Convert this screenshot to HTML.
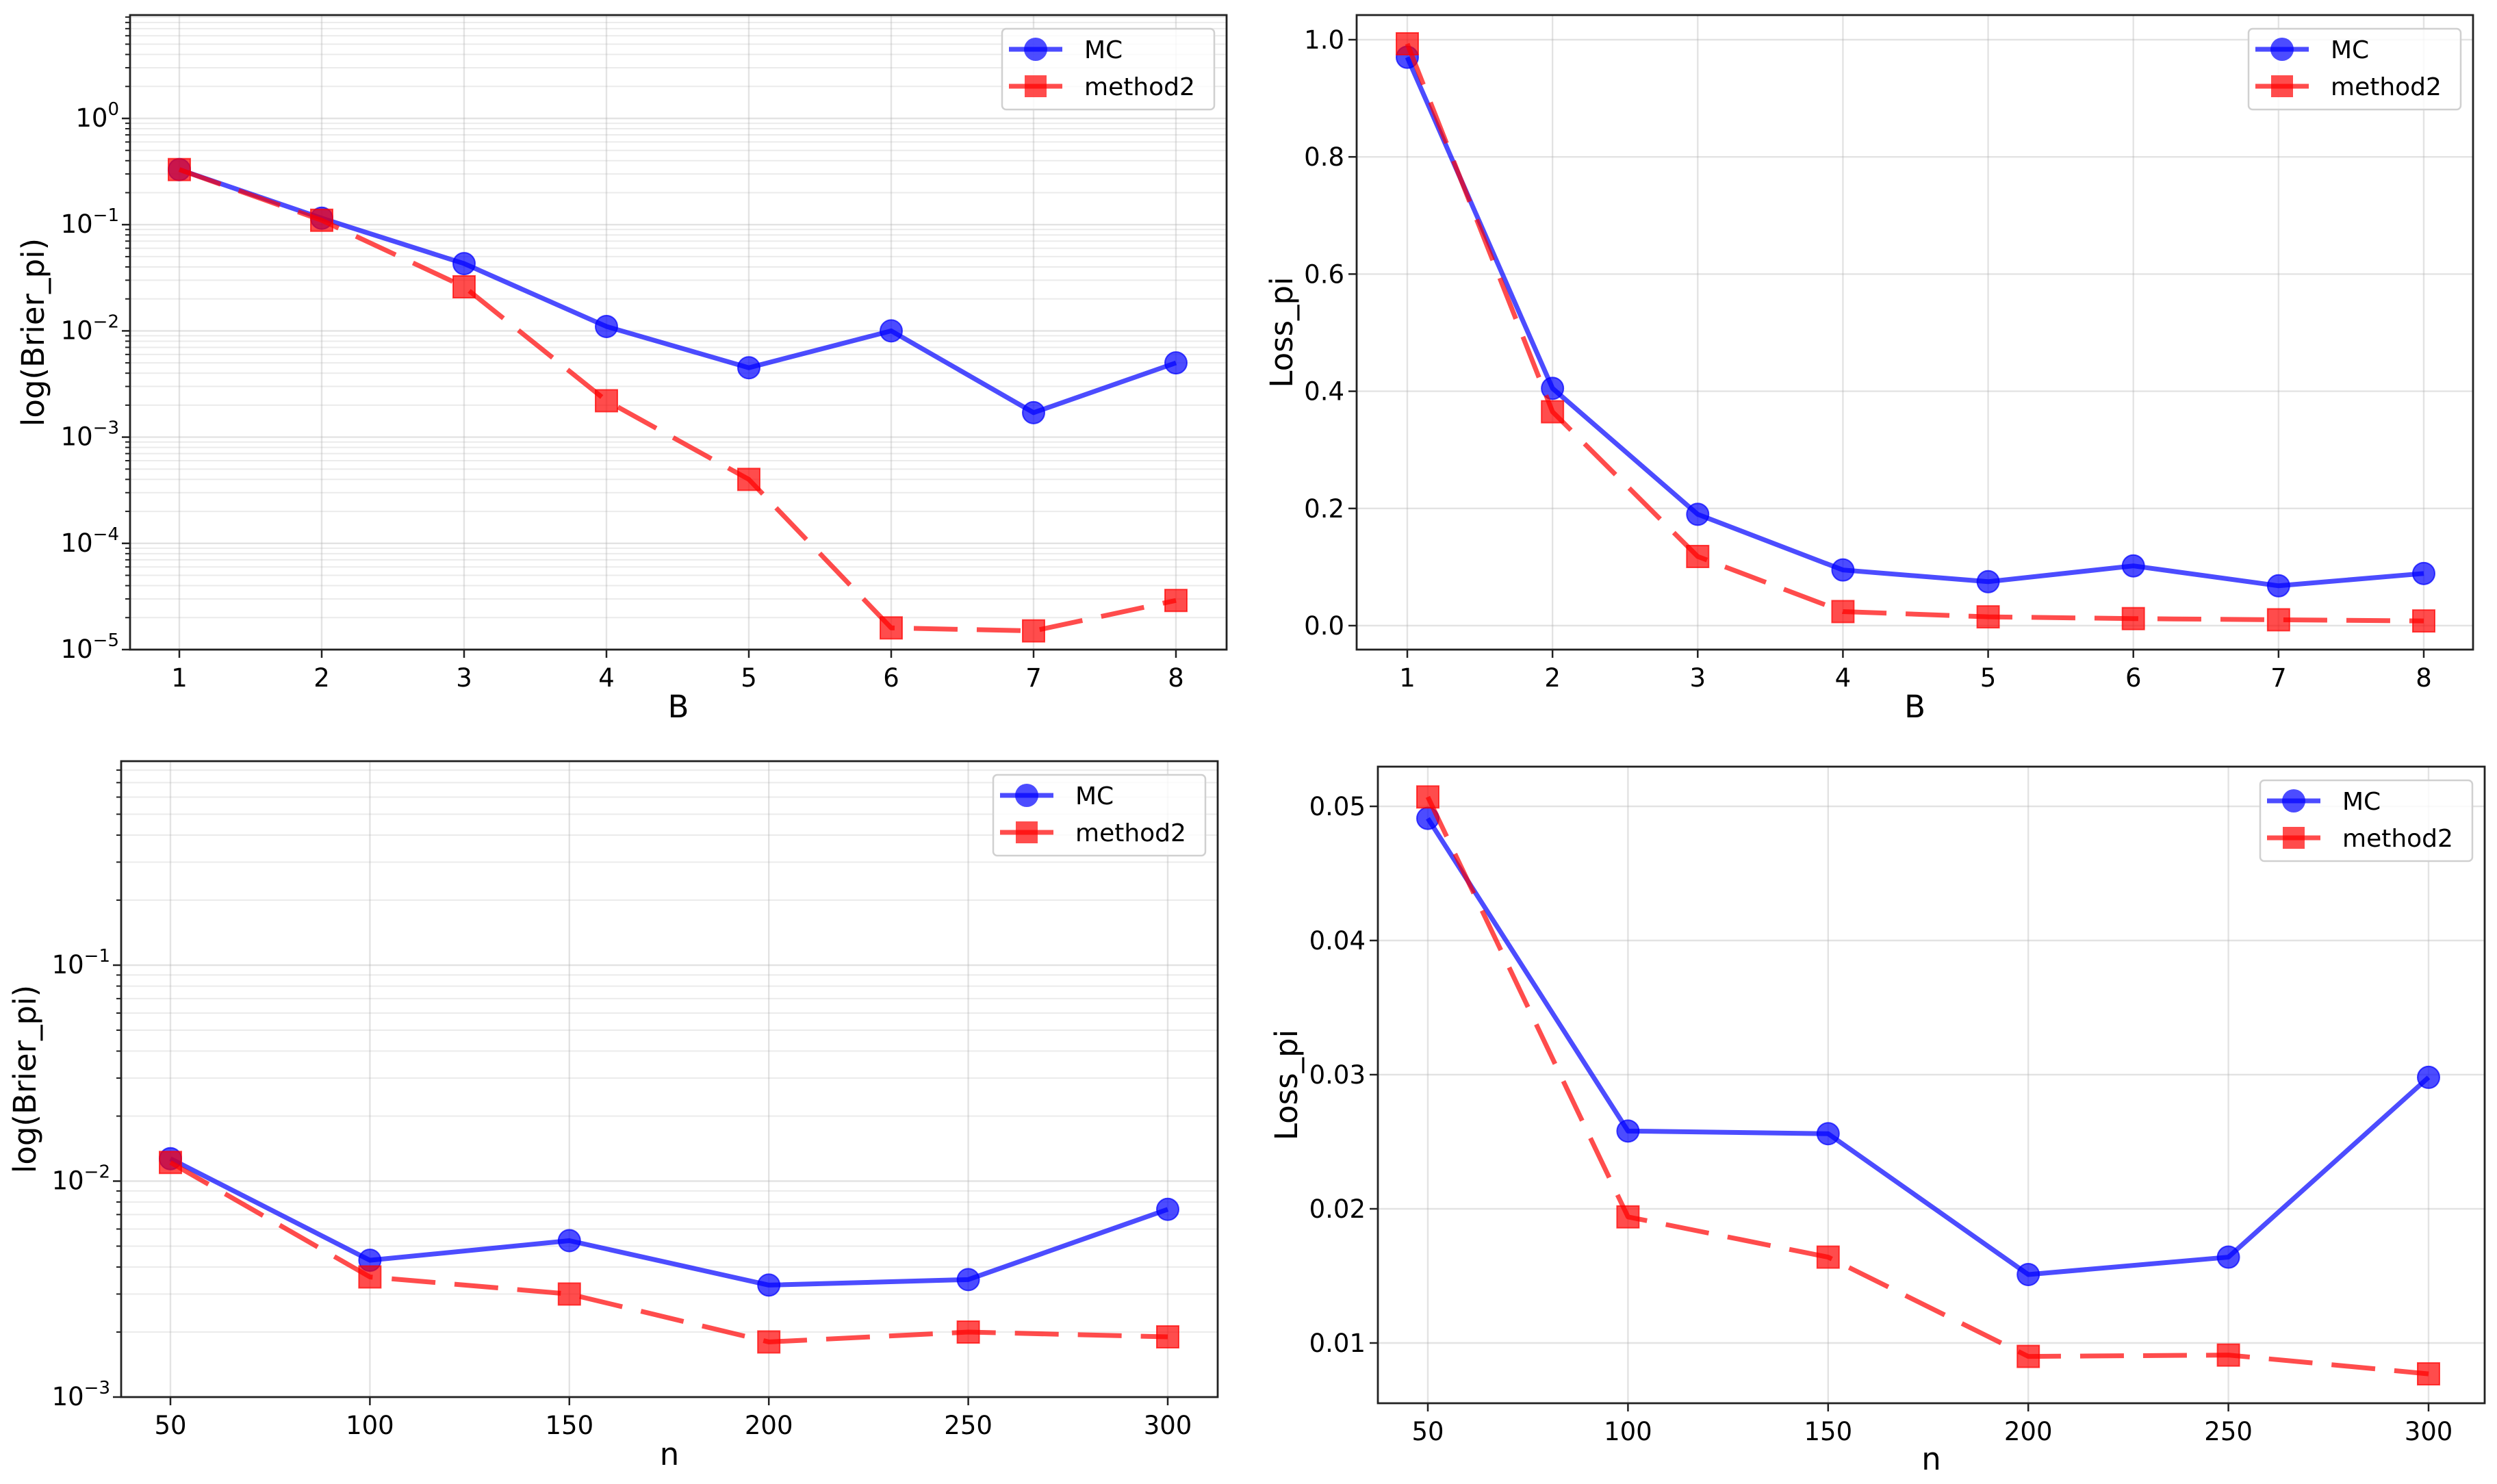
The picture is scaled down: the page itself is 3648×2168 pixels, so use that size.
<!DOCTYPE html>
<html><head><meta charset="utf-8"><style>
html,body{margin:0;padding:0;background:#fff;}
svg{display:block;font-family:"DejaVu Sans","Liberation Sans",sans-serif;}
</style></head><body>
<svg id="fig" width="3648" height="2168" viewBox="0 0 3648 2168" xmlns="http://www.w3.org/2000/svg"></svg>
<script>
// Panel A: Brier vs B (log)
const catB = [1,2,3,4,5,6,7,8];
const brierMC = [0.33,0.115,0.043,0.011,0.0045,0.010,0.0017,0.005];
const brierM2 = [0.33,0.11,0.026,0.0022,0.0004,0.000016,0.000015,0.000029];
// Panel B: Loss vs B
const lossMC = [0.97,0.405,0.19,0.095,0.075,0.102,0.068,0.089];
const lossM2 = [0.993,0.365,0.118,0.024,0.015,0.012,0.010,0.008];
const ticksLin1 = [0.0,0.2,0.4,0.6,0.8,1.0];
const tickLabelsLin1 = ["0.0","0.2","0.4","0.6","0.8","1.0"];
// Panel C: Brier vs n (log)
const catN = [50,100,150,200,250,300];
const brierNMC = [0.0127,0.0043,0.0053,0.0033,0.0035,0.0074];
const brierNM2 = [0.0122,0.0036,0.0030,0.0018,0.0020,0.0019];
// Panel D: Loss vs n
const lossNMC = [0.0491,0.0258,0.0256,0.0151,0.0164,0.0298];
const lossNM2 = [0.0507,0.0194,0.0164,0.0090,0.0091,0.0077];
const ticksLin2 = [0.01,0.02,0.03,0.04,0.05];
const tickLabelsLin2 = ["0.01","0.02","0.03","0.04","0.05"];

const NS="http://www.w3.org/2000/svg";
const svg=document.getElementById('fig');
function mk(tag,attrs,parent){const e=document.createElementNS(NS,tag);for(const k in attrs)e.setAttribute(k,attrs[k]);(parent||svg).appendChild(e);return e;}

function panel(cfg){
  const g=mk('g',{});
  
  
  const L=cfg.L,R=cfg.R,T=cfg.T,B=cfg.B;
  const xs=v=>cfg.x0px+(v-cfg.x0)*(cfg.x1px-cfg.x0px)/(cfg.x1-cfg.x0);
  let ys;
  if(cfg.log){ys=v=>cfg.y0px+(Math.log10(v)-cfg.y0)*(cfg.y1px-cfg.y0px)/(cfg.y1-cfg.y0);}
  else{ys=v=>cfg.y0px+(v-cfg.y0)*(cfg.y1px-cfg.y0px)/(cfg.y1-cfg.y0);}
  const grid=mk('g',{},g);
  
  
  const yt=mk('g',{},g);
  
  
  if(cfg.log){
    for(let d=cfg.decLo;d<=cfg.decHi;d++){
      for(let m=1;m<10;m++){
        const v=m*Math.pow(10,d);const y=ys(v);
        if(y<T-0.5||y>B+0.5)continue;
        mk('line',{x1:L,x2:R,y1:y,y2:y,stroke:'#b0b0b0','stroke-opacity':m==1?0.35:0.25,'stroke-width':m==1?2.4:2},grid);
        mk('line',{x1:L-(m==1?12:7),x2:L,y1:y,y2:y,stroke:'#222','stroke-width':m==1?2.5:2},yt);
        if(m==1){
          const t=mk('text',{x:L-16,y:y+12,'text-anchor':'end','font-size':37,fill:'#000'},yt);
          t.textContent='10';
          const s=mk('tspan',{dy:-17,'font-size':26},t);s.textContent='\u2212'+Math.abs(d);
          if(d==0)s.textContent='0';
        }
      }
    }
  } else {
    cfg.yticks.forEach((v,i)=>{
      const y=ys(v);
      mk('line',{x1:L,x2:R,y1:y,y2:y,stroke:'#b0b0b0','stroke-opacity':0.35,'stroke-width':2.4},grid);
      mk('line',{x1:L-12,x2:L,y1:y,y2:y,stroke:'#222','stroke-width':2.5},yt);
      const t=mk('text',{x:L-18,y:y+13,'text-anchor':'end','font-size':37,fill:'#000'},yt);
      t.textContent=cfg.ylabels[i];
    });
  }
  const xt=mk('g',{},g);
  
  
  cfg.cats.forEach(v=>{
    const x=xs(v);
    mk('line',{x1:x,x2:x,y1:T,y2:B,stroke:'#b0b0b0','stroke-opacity':0.35,'stroke-width':2.4},grid);
    mk('line',{x1:x,x2:x,y1:B,y2:B+12,stroke:'#222','stroke-width':2.5},xt);
    const t=mk('text',{x:x,y:B+54,'text-anchor':'middle','font-size':37,fill:'#000'},xt);
    t.textContent=String(v);
  });
  function series(vals,color,dashed,marker,nm){
    const sg=mk('g',{},g);
    
    
    const pts=vals.map((v,i)=>xs(cfg.cats[i])+','+ys(v)).join(' ');
    const pl=mk('polyline',{points:pts,fill:'none',stroke:color,'stroke-opacity':0.7,'stroke-width':7,'stroke-linejoin':'round'},sg);
    if(dashed)pl.setAttribute('stroke-dasharray','64 28');
    vals.forEach((v,i)=>{
      const x=xs(cfg.cats[i]),y=ys(v);let m;
      if(marker=='o')m=mk('circle',{cx:x,cy:y,r:16,fill:color,'fill-opacity':0.7,stroke:color,'stroke-opacity':0.7,'stroke-width':2},sg);
      else m=mk('rect',{x:x-16,y:y-16,width:32,height:32,fill:color,'fill-opacity':0.7,stroke:color,'stroke-opacity':0.7,'stroke-width':2},sg);
      
      
    });
  }
  series(cfg.mc,'#0000ff',false,'o','series-mc');
  series(cfg.m2,'#ff0000',true,'s','series-method2');
  const fr=mk('rect',{x:L,y:T,width:R-L,height:B-T,fill:'none',stroke:'#222','stroke-width':2.8},g);
  
  
  const xl=mk('text',{x:(L+R)/2,y:cfg.xlabY,'text-anchor':'middle','font-size':45,fill:'#000'},g);
  xl.textContent=cfg.xlabel;
  
  
  const yl=mk('text',{x:0,y:0,'text-anchor':'middle','font-size':45,fill:'#000',transform:`translate(${cfg.ylabX},${(T+B)/2}) rotate(-90)`},g);
  yl.textContent=cfg.ylabel;
  
  
  const lg=mk('g',{},g);
  
  
  const lw=310,lh=118,lx=R-18-lw,ly=T+20;
  mk('rect',{x:lx,y:ly,width:lw,height:lh,rx:6,fill:'#fff','fill-opacity':0.8,stroke:'#d0d0d0','stroke-width':2.5},lg);
  const e1=mk('g',{},lg);
  
  
  mk('line',{x1:lx+10,x2:lx+88,y1:ly+30,y2:ly+30,stroke:'#0000ff','stroke-opacity':0.7,'stroke-width':7},e1);
  mk('circle',{cx:lx+49,cy:ly+30,r:17,fill:'#0000ff','fill-opacity':0.7},e1);
  const t1=mk('text',{x:lx+120,y:ly+43,'font-size':36,fill:'#000'},e1);t1.textContent='MC';
  const e2=mk('g',{},lg);
  
  
  mk('line',{x1:lx+10,x2:lx+88,y1:ly+84,y2:ly+84,stroke:'#ff0000','stroke-opacity':0.7,'stroke-width':7},e2);
  mk('rect',{x:lx+33,y:ly+68,width:32,height:32,fill:'#ff0000','fill-opacity':0.7},e2);
  const t2=mk('text',{x:lx+120,y:ly+97,'font-size':36,fill:'#000'},e2);t2.textContent='method2';
}

panel({name:'panel-brier-vs-B',L:190,R:1792,T:22,B:949,log:true,decLo:-5,decHi:0,
  y0:-5,y0px:949,y1:0,y1px:173,x0:1,x0px:262,x1:8,x1px:1718,
  cats:catB,mc:brierMC,m2:brierM2,xlabel:'B',ylabel:'log(Brier_pi)',xlabY:1048,ylabX:64});
panel({name:'panel-loss-vs-B',L:1982,R:3613,T:22,B:949,log:false,yticks:ticksLin1,ylabels:tickLabelsLin1,
  y0:0,y0px:914,y1:1,y1px:58,x0:1,x0px:2056,x1:8,x1px:3541,
  cats:catB,mc:lossMC,m2:lossM2,xlabel:'B',ylabel:'Loss_pi',xlabY:1048,ylabX:1888});
panel({name:'panel-brier-vs-n',L:177,R:1779,T:1112,B:2041,log:true,decLo:-3,decHi:-1,
  y0:-3,y0px:2041,y1:-1,y1px:1410,x0:50,x0px:249,x1:300,x1px:1706,
  cats:catN,mc:brierNMC,m2:brierNM2,xlabel:'n',ylabel:'log(Brier_pi)',xlabY:2140,ylabX:52});
panel({name:'panel-loss-vs-n',L:2013,R:3630,T:1120,B:2050,log:false,yticks:ticksLin2,ylabels:tickLabelsLin2,
  y0:0.01,y0px:1962,y1:0.05,y1px:1178,x0:50,x0px:2086,x1:300,x1px:3548,
  cats:catN,mc:lossNMC,m2:lossNM2,xlabel:'n',ylabel:'Loss_pi',xlabY:2147,ylabX:1895});
</script>
</body></html>
